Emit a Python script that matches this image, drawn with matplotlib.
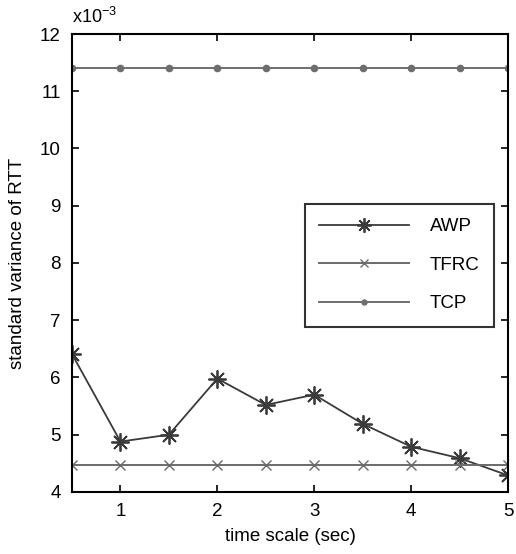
import matplotlib.pyplot as plt

plt.rcParams['font.family'] = ['Liberation Sans', 'DejaVu Sans']

# time scale (sec)
timeScale = [0.5, 1.0, 1.5, 2.0, 2.5, 3.0, 3.5, 4.0, 4.5, 5.0]
# standard variance of RTT, in units of 1e-3
awp = [6.41, 4.88, 5.0, 5.98, 5.52, 5.7, 5.19, 4.79, 4.59, 4.29]
tfrc = [4.47] * len(timeScale)
tcp = [11.4] * len(timeScale)

fig = plt.figure(figsize=(5.16, 5.54), dpi=100)
ax = fig.add_axes([0.1395, 0.112, 0.845, 0.8266])

# 8-armed asterisk like the MATLAB '*' marker
ax.plot(timeScale, awp, color='#3a3a3a', linewidth=1.3, marker=(8, 2, 0),
        markersize=13, markeredgewidth=1.3, label='AWP')
ax.plot(timeScale, tfrc, color='#6a6a6a', linewidth=1.4, marker='x',
        markersize=7, markeredgewidth=1.0, label='TFRC')
ax.plot(timeScale, tcp, color='#6e6e6e', linewidth=1.4, marker='.',
        markersize=9, label='TCP')

ax.set_xlim(0.5, 5)
ax.set_ylim(4, 12)
ax.set_xticks([1, 2, 3, 4, 5])
ax.set_yticks(range(4, 13))
ax.tick_params(direction='in', top=True, right=True, length=5, width=1.2,
               labelsize=13.5, pad=8)
for s in ax.spines.values():
    s.set_linewidth(1.5)

ax.set_xlabel('time scale (sec)', fontsize=13.5, labelpad=6)
ax.set_ylabel('standard variance of RTT', fontsize=13.5, labelpad=10)
ax.text(0.0, 1.015, r'x10$^{\mathregular{-3}}$', transform=ax.transAxes,
        fontsize=13, ha='left', va='bottom')

leg = ax.legend(loc='upper left', bbox_to_anchor=(0.535, 0.629), fontsize=13.5,
                frameon=True, fancybox=False, edgecolor='black',
                handlelength=4.8, labelspacing=1.15, borderpad=0.75,
                handletextpad=1.1, borderaxespad=0, markerscale=0.8)
leg.get_frame().set_linewidth(1.5)

plt.savefig('out.png', dpi=100)
